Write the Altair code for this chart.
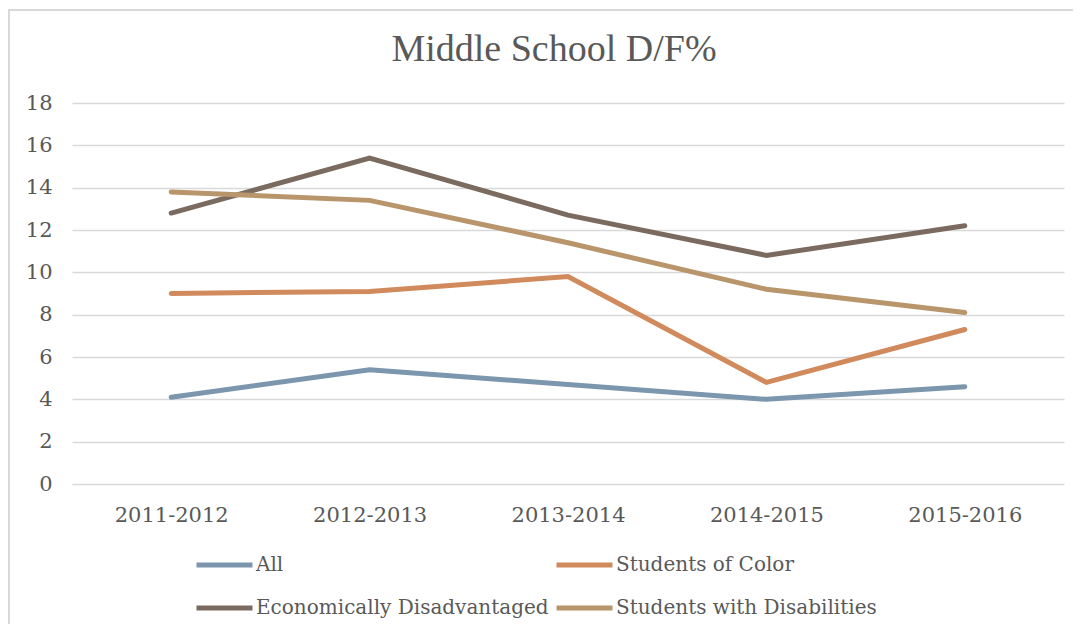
import altair as alt
import pandas as pd

years = ["2011-2012", "2012-2013", "2013-2014", "2014-2015", "2015-2016"]
series_names = ["All", "Students of Color", "Economically Disadvantaged", "Students with Disabilities"]
all_vals = [4.1, 5.4, 4.7, 4.0, 4.6]
soc_vals = [9.0, 9.1, 9.8, 4.8, 7.3]
ed_vals = [12.8, 15.4, 12.7, 10.8, 12.2]
swd_vals = [13.8, 13.4, 11.4, 9.2, 8.1]
colors = ["#7c96ae", "#d08a5c", "#7a6a5f", "#b9956b"]
y_ticks = [0, 2, 4, 6, 8, 10, 12, 14, 16, 18]

rows = []
for name, vals in zip(series_names, [all_vals, soc_vals, ed_vals, swd_vals]):
    for yr, v in zip(years, vals):
        rows.append({"Year": yr, "Series": name, "Value": v})
df = pd.DataFrame(rows)

FONT = "DejaVu Serif"
TFONT = "Liberation Serif"
GREY = "#595959"

lines = alt.Chart(df).mark_line(strokeWidth=5, strokeCap="round", strokeJoin="miter").encode(
    x=alt.X("Year:O", sort=years, title=None,
            scale=alt.Scale(type="point", padding=0.5),
            axis=alt.Axis(labelAngle=0, ticks=False, domain=False, grid=False,
                          labelFontSize=21, labelColor=GREY, labelFont=FONT, labelPadding=20)),
    y=alt.Y("Value:Q", title=None,
            scale=alt.Scale(domain=[0, 18], nice=False),
            axis=alt.Axis(values=y_ticks, ticks=False, domain=False, grid=True,
                          gridColor="#d9d9d9", gridWidth=1.5,
                          labelFontSize=21, labelColor=GREY, labelFont=FONT, labelPadding=20)),
    color=alt.Color("Series:N",
                    scale=alt.Scale(domain=series_names, range=colors),
                    legend=alt.Legend(title=None, orient="none", legendX=122, legendY=447,
                                      direction="horizontal",
                                      values=series_names,
                                      columns=2, symbolType="stroke", symbolSize=3136,
                                      symbolStrokeWidth=5, clipHeight=30, rowPadding=13,
                                      columnPadding=5, labelOffset=1,
                                      labelFontSize=20, labelFont=FONT, labelColor=GREY,
                                      labelLimit=0)),
    detail="Series:N",
)

border_left = alt.Chart().mark_rule(color="#d9d9d9", strokeWidth=2).encode(
    x=alt.value(-63), y=alt.value(-94), y2=alt.value(560))
border_top = alt.Chart().mark_rule(color="#d9d9d9", strokeWidth=2).encode(
    y=alt.value(-93), x=alt.value(-64), x2=alt.value(1010))

chart = alt.layer(border_left, border_top, lines).properties(
    width=992, height=381,
    padding={"left": 64, "top": 95, "right": 9, "bottom": 140},
    autosize=alt.AutoSizeParams(type="none"),
    title=alt.TitleParams("Middle School D/F%", fontSize=38, font=TFONT, color=GREY,
                          fontWeight="normal", anchor="middle", offset=-61, dx=-14),
).configure_view(stroke=None)

chart.save("out.html", embed_options={"renderer": "svg", "actions": False})
